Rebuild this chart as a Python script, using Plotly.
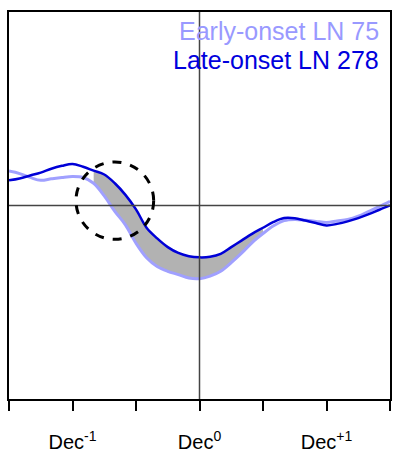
import plotly.graph_objects as go

months = list(range(-18, 19))

late_onset = [0.13, 0.14, 0.155, 0.17, 0.19, 0.205, 0.215, 0.20, 0.18, 0.16, 0.115, 0.055,
              -0.02, -0.115, -0.17, -0.215, -0.245, -0.262, -0.268, -0.265, -0.25, -0.215,
              -0.18, -0.145, -0.115, -0.085, -0.065, -0.066, -0.078, -0.09, -0.103, -0.095,
              -0.082, -0.065, -0.045, -0.022, 0.0]

early_onset = [0.178, 0.165, 0.145, 0.13, 0.138, 0.145, 0.15, 0.145, 0.115, 0.05, -0.03, -0.10,
               -0.195, -0.27, -0.315, -0.34, -0.357, -0.375, -0.378, -0.365, -0.34, -0.295,
               -0.245, -0.19, -0.145, -0.105, -0.078, -0.072, -0.076, -0.082, -0.088, -0.08,
               -0.072, -0.055, -0.03, -0.005, 0.022]

tick_vals = [-12, 0, 12]
tick_text = ["Dec<sup>-1</sup>", "Dec<sup>0</sup>", "Dec<sup>+1</sup>"]

legend_labels = ["Early-onset LN 75", "Late-onset LN 278"]

fill_start, fill_end = -10, 6

sel = [i for i, m in enumerate(months) if fill_start <= m <= fill_end]
fx = [months[i] for i in sel]

fig = go.Figure()
fig.add_trace(go.Scatter(x=fx, y=[late_onset[i] for i in sel], mode="lines",
                         line=dict(width=0, shape="spline"), showlegend=False, hoverinfo="skip"))
fig.add_trace(go.Scatter(x=fx, y=[early_onset[i] for i in sel], mode="lines",
                         line=dict(width=0, shape="spline"), fill="tonexty",
                         fillcolor="rgb(178,178,178)", showlegend=False, hoverinfo="skip"))
fig.add_trace(go.Scatter(x=months, y=early_onset, mode="lines",
                         line=dict(color="rgb(160,160,255)", width=3, shape="spline"),
                         showlegend=False))
fig.add_trace(go.Scatter(x=months, y=late_onset, mode="lines",
                         line=dict(color="rgb(0,0,215)", width=2.5, shape="spline"),
                         showlegend=False))

# zero lines
fig.add_shape(type="line", x0=-18, x1=18, y0=0, y1=0, layer="above",
              line=dict(color="#444", width=1.5))
fig.add_shape(type="line", x0=0, x1=0, y0=-1, y1=1, layer="above",
              line=dict(color="#444", width=1.5))
# dashed circle
fig.add_shape(type="circle", x0=-11.67, x1=-4.33, y0=-0.175, y1=0.225, layer="above",
              line=dict(color="black", width=3, dash="dash"))

fig.add_annotation(x=0.9765, y=0.951, xref="paper", yref="paper", xanchor="right",
                   yanchor="middle", text=legend_labels[0], showarrow=False,
                   font=dict(family="Liberation Sans", size=25, color="rgb(153,153,255)"))
fig.add_annotation(x=0.9765, y=0.876, xref="paper", yref="paper", xanchor="right",
                   yanchor="middle", text=legend_labels[1], showarrow=False,
                   font=dict(family="Liberation Sans", size=25, color="rgb(0,0,221)"))

fig.update_layout(
    width=394, height=455,
    margin=dict(l=9, r=2, t=12, b=55),
    plot_bgcolor="white", paper_bgcolor="white",
    font=dict(family="Liberation Sans", color="black"),
    xaxis=dict(range=[-18, 18], tickvals=tick_vals, ticktext=tick_text,
               ticks="outside", ticklen=10, tickwidth=2, tickcolor="black",
               ticklabelstandoff=14,
               minor=dict(tick0=-18, dtick=6, ticks="outside", ticklen=10, tickwidth=2,
                          tickcolor="black", showgrid=False),
               showline=True, linewidth=2, linecolor="black", mirror=True,
               showgrid=False, zeroline=False, tickfont=dict(size=20, color="black")),
    yaxis=dict(range=[-1, 1], showticklabels=False, ticks="",
               showline=True, linewidth=2, linecolor="black", mirror=True,
               showgrid=False, zeroline=False),
)

fig.write_html("out.html")
